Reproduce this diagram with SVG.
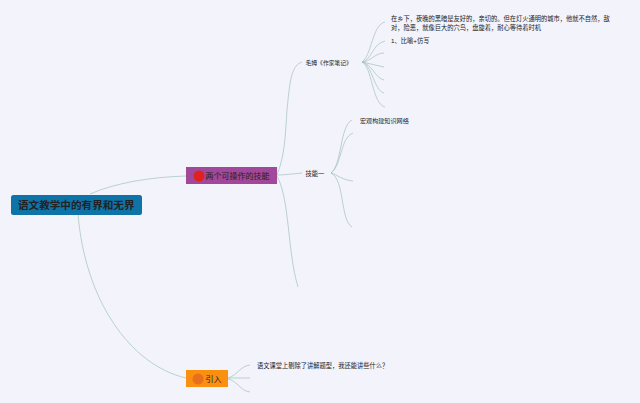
<svg xmlns="http://www.w3.org/2000/svg" width="640" height="403" viewBox="0 0 640 403">
<style>
text{font-family:"Liberation Sans","Noto Sans CJK SC",sans-serif;fill:#222}
.s{font-size:6.25px}
.c path{fill:none;stroke:#a8c4c0;stroke-width:.75}
</style>
<rect width="640" height="403" fill="#f3f3fb"/>
<g id="connectors" class="c">
<path d="M90 194C115 183 150 177 186 176"/>
<path d="M78 214C85 300 130 365 186 378"/>
<path d="M277 175C287 150 285 125 288 100C290 80 292 65 302 62"/>
<path d="M277 175C284 175 292 174 302 173"/>
<path d="M277 176C290 200 287 250 298 287"/>
<path d="M362 62C372 55 372 25 385 22"/>
<path d="M362 62C372 60 372 44 385 41"/>
<path d="M362 62C370 62 375 53 384 53"/>
<path d="M362 62L384 67"/>
<path d="M362 62C372 64 375 78 384 80"/>
<path d="M362 62C372 64 374 91 384 93"/>
<path d="M362 62C372 66 372 104 385 107"/>
<path d="M331 173C342 165 340 125 352 120"/>
<path d="M331 173C342 165 340 138 353 133"/>
<path d="M331 173C338 175 342 180 353 181"/>
<path d="M331 173C345 180 340 220 352 227"/>
<path d="M228 378C238 375 240 366 250 365"/>
<path d="M228 378H250"/>
<path d="M228 379C238 381 240 391 250 392"/>
</g>
<g id="root">
<rect x="11" y="195" width="131" height="20" rx="2.5" fill="#0e74a8"/>
<text x="18" y="209" font-size="10.6" font-weight="bold">语文教学中的有界和无界</text>
</g>
<g id="skills">
<rect x="186" y="167" width="91" height="17" fill="#a2489a"/>
<circle cx="199" cy="176" r="5.5" fill="#e1211c"/>
<text x="205.500" y="179" font-size="8">两个可操作的技能</text>
</g>
<g id="intro">
<rect x="186" y="370" width="42" height="17" fill="#fb8f10"/>
<circle cx="198" cy="379" r="5.500" fill="#e8701c"/>
<text x="205.500" y="382" font-size="8">引入</text>
</g>
<g id="maomu"><text x="305.500" y="65" font-size="5.8">毛姆《作家笔记》</text></g>
<g id="skill1"><text x="305.500" y="176" class="s">技能一</text></g>
<g id="t1"><text x="391" y="20.500" class="s">在乡下，夜晚的黑暗是友好的，亲切的。但在灯火通明的城市，他就不自然，敌</text>
<text x="391" y="30" class="s">对，险恶，就像巨大的穴鸟，盘旋着，耐心等待着时机</text></g>
<g id="t2"><text x="391" y="43" class="s">1、比喻+仿写</text></g>
<g id="t3"><text x="360" y="123" font-size="6.1">宏观构建知识网络</text></g>
<g id="t4"><text x="257" y="368" class="s">语文课堂上剔除了讲解题型，我还能讲些什么？</text></g>
</svg>
